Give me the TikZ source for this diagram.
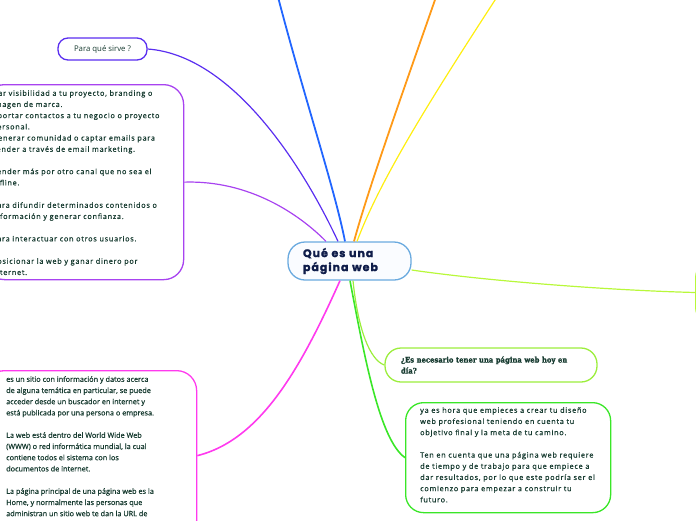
\documentclass[tikz,border=0pt]{standalone}
\usepackage{fontspec}
\setmainfont{Open Sans}
\newfontfamily\bodyfont{Open Sans}[FakeBold=0.8]
\newfontfamily\widefont{Open Sans}[FakeBold=0.8, LetterSpace=10]
\newfontfamily\titlefont{Poppins}[LetterSpace=9, BoldFeatures={FakeBold=1.5}]
\newfontfamily\slabfont{DejaVu Serif Condensed}[BoldFeatures={FakeBold=1.2}]
\usetikzlibrary{positioning}
\definecolor{mmText}{HTML}{173b30}
\definecolor{mmTitle}{HTML}{0f1d4a}
\definecolor{mmCenter}{HTML}{6aaadf}
\definecolor{mmCenterF}{HTML}{fafcff}
\definecolor{mmIndigo}{HTML}{5a2ef0}
\definecolor{mmPurple}{HTML}{a843f0}
\definecolor{mmBlue}{HTML}{2266ff}
\definecolor{mmOrange}{HTML}{ff9a18}
\definecolor{mmYellow}{HTML}{ffee10}
\definecolor{mmLime}{HTML}{b8f83a}
\definecolor{mmMagenta}{HTML}{ff3aee}
\definecolor{mmLight}{HTML}{9cee3c}
\definecolor{mmGreen}{HTML}{3ae628}

\begin{document}
\begin{tikzpicture}[x=1pt,y=-1pt,
  topic/.style={draw, rounded corners=10pt, line width=1.3pt, fill=white, inner sep=0pt},
  bodytext/.style={align=left, text=mmText, inner sep=0pt, font=\bodyfont\fontsize{7.3}{11.2}\selectfont},
  widetext/.style={bodytext, font=\widefont\fontsize{7.3}{11.2}\selectfont},
  link/.style={line width=1.2pt}]
\useasboundingbox (0,0) rectangle (696,520);
\clip (0,0) rectangle (696,520);
% central topic
\node[draw=mmCenter, fill=mmCenterF, line width=1.3pt, rounded corners=17pt, minimum width=123pt, minimum height=38pt, text width=93pt, align=left, text=mmTitle, font=\titlefont\bfseries\fontsize{11}{14}\selectfont] (qc) at (349.5,261) {Qué es una\\página web};
% branches on the left
\node[topic, draw=mmIndigo, minimum width=89pt, minimum height=22pt, text=mmText, font=\fontsize{7.8}{9}\selectfont] (sirve) at (102.5,49) {Para qué sirve ?};
\node[topic, draw=mmPurple, rounded corners=20pt, minimum width=199pt, minimum height=195pt, anchor=north west] (usos) at (-16,84) {};
\node[widetext, anchor=north west] (usostxt) at (-8,90) {Dar visibilidad a tu proyecto, branding o\\imagen de marca.\\Aportar contactos a tu negocio o proyecto\\personal.\\Generar comunidad o captar emails para\\vender a través de email marketing.\\[11.2pt]Vender más por otro canal que no sea el\\offline.\\[11.2pt]Para difundir determinados contenidos o\\información y generar confianza.\\[11.2pt]Para interactuar con otros usuarios.\\[11.2pt]Posicionar la web y ganar dinero por\\internet.};
\node[topic, draw=mmMagenta, rounded corners=20pt, minimum width=212pt, minimum height=170pt, anchor=north west] (defin) at (-16,370) {};
\node[bodytext, anchor=north west] (defintxt) at (6,376) {es un sitio con información y datos acerca\\de alguna temática en particular, se puede\\acceder desde un buscador en internet y\\está publicada por una persona o empresa.\\[11.2pt]La web está dentro del World Wide Web\\(WWW) o red informática mundial, la cual\\contiene todos el sistema con los\\documentos de internet.\\[11.2pt]La página principal de una página web es la\\Home, y normalmente las personas que\\administran un sitio web te dan la URL de};
% branches on the right
\node[topic, draw=mmLime, rounded corners=20pt, minimum width=120pt, minimum height=69pt, anchor=west] (derecha) at (695,292.5) {};
\node[topic, draw=mmLight, rounded corners=16pt, minimum width=212pt, minimum height=34pt, text width=180pt, align=left, text=mmText, font=\slabfont\bfseries\fontsize{7.6}{11}\selectfont] (pregunta) at (491,365) {¿Es necesario tener una página web hoy en\\día?};
\node[topic, draw=mmGreen, rounded corners=18pt, minimum width=205pt, minimum height=110pt, anchor=north west] (respuesta) at (405,402) {};
\node[widetext, anchor=north west] (resptxt) at (420,407) {ya es hora que empieces a crear tu diseño\\web profesional teniendo en cuenta tu\\objetivo final y la meta de tu camino.\\[11.2pt]Ten en cuenta que una página web requiere\\de tiempo y de trabajo para que empiece a\\dar resultados, por lo que este podría ser el\\comienzo para empezar a construir tu\\futuro.};
% branches leaving the picture at the top
\coordinate (azul) at (278,-3);
\coordinate (naranja) at (436,-3);
\coordinate (amarillo) at (497,-3);
% connectors
\draw[link, mmIndigo] (sirve.east) .. controls (230,55) and (300,160) .. ([xshift=-11.5pt]qc.north);
\draw[link, mmPurple] (usos.east) .. controls (250,180) and (300,215) .. ([xshift=-23.5pt]qc.north);
\draw[link, mmBlue, line width=1.8pt] (azul) .. controls (305,100) and (335,190) .. ([xshift=-4.5pt]qc.north);
\draw[link, mmOrange, line width=1.8pt] (naranja) .. controls (400,100) and (368,190) .. ([xshift=4.5pt]qc.north);
\draw[link, mmYellow] (amarillo) .. controls (430,100) and (380,180) .. ([xshift=7.5pt]qc.north);
\draw[link, mmLime] ([yshift=-9pt]qc.east) .. controls (480,280) and (600,290) .. (derecha.west);
\draw[link, mmMagenta, line width=1.6pt] ([xshift=-9.5pt]qc.south) .. controls (300,370) and (260,440) .. (defin.east);
\draw[link, mmLight] ([xshift=3.5pt]qc.south) .. controls (358,330) and (370,360) .. (pregunta.west);
\draw[link, mmGreen, line width=1.6pt] ([xshift=0.5pt]qc.south) .. controls (365,360) and (380,440) .. (respuesta.west);
\end{tikzpicture}
\end{document}
